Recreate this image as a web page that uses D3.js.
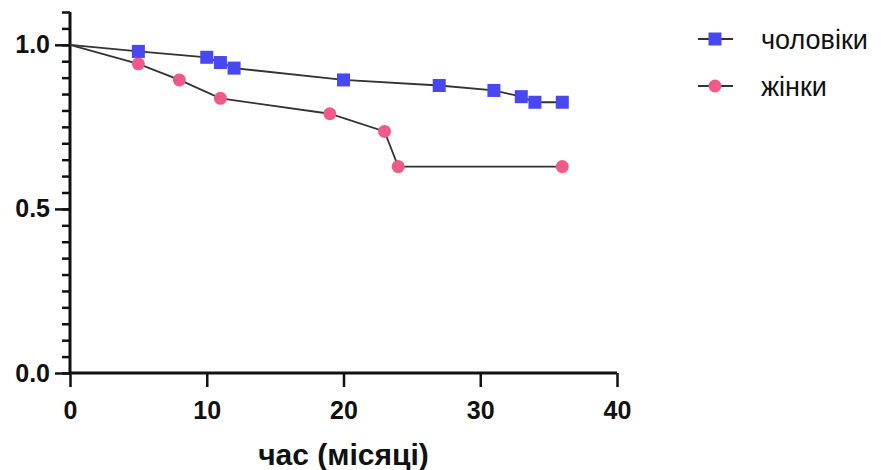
<!DOCTYPE html>
<html>
<head>
<meta charset="utf-8">
<script src="https://cdn.jsdelivr.net/npm/d3@7"></script>
<style>
  body { margin: 0; background: #fff; }
  text { font-family: "Liberation Sans", Arial, sans-serif; }
</style>
</head>
<body>
<div id="chart"></div>
<script>
// series (time in months, survival proportion)
const menTime = [0, 5, 10, 11, 12, 20, 27, 31, 33, 34, 36];
const menSurv = [1.0, 0.980, 0.962, 0.946, 0.929, 0.893, 0.876, 0.861, 0.842, 0.825, 0.825];
const womenTime = [0, 5, 8, 11, 19, 23, 24, 36];
const womenSurv = [1.0, 0.942, 0.893, 0.837, 0.790, 0.736, 0.629, 0.629];
const seriesNames = ["чоловіки", "жінки"];
const xTicks = [0, 10, 20, 30, 40];
const yTicks = [0.0, 0.5, 1.0];
const xTitle = "час (місяці)";

const width = 881, height = 470;
const margin = { top: 12, right: 264, bottom: 97, left: 70 };

const svg = d3.select("#chart").append("svg")
    .attr("width", width)
    .attr("height", height);

const x = d3.scaleLinear().domain([0, 40]).range([margin.left, width - margin.right]);
const y = d3.scaleLinear().domain([0, 1.1]).range([height - margin.bottom, margin.top]);

// y axis: minor ticks every 0.05, then major ticks with labels
const yMinor = svg.append("g").attr("transform", "translate(" + x(0) + ",0)")
    .call(d3.axisLeft(y).tickValues(d3.range(0, 1.1001, 0.05)).tickSize(8).tickFormat(""));
yMinor.select(".domain").remove();
yMinor.selectAll(".tick line").attr("stroke", "#111").attr("stroke-width", 2.5);

const yMajor = svg.append("g").attr("transform", "translate(" + x(0) + ",0)")
    .call(d3.axisLeft(y).tickValues(yTicks).tickSize(15).tickPadding(5).tickFormat(d3.format(".1f")));
yMajor.select(".domain").attr("d", "M0," + y(1.1) + "V" + y(0)).attr("stroke", "#111").attr("stroke-width", 3);
yMajor.selectAll(".tick line").attr("stroke", "#111").attr("stroke-width", 2.5);
yMajor.selectAll(".tick text")
    .attr("font-family", "Liberation Sans, Arial, sans-serif")
    .attr("font-size", 25).attr("font-weight", "bold").attr("fill", "#111")
    .attr("x", -20);

// x axis
const xAxis = svg.append("g").attr("transform", "translate(0," + y(0) + ")")
    .call(d3.axisBottom(x).tickValues(xTicks).tickSize(14).tickPadding(6));
xAxis.select(".domain").attr("d", "M" + x(0) + ",0H" + x(40)).attr("stroke", "#111").attr("stroke-width", 3);
xAxis.selectAll(".tick line").attr("stroke", "#111").attr("stroke-width", 2.5);
xAxis.selectAll(".tick text")
    .attr("font-family", "Liberation Sans, Arial, sans-serif")
    .attr("font-size", 25).attr("font-weight", "bold").attr("fill", "#111")
    .attr("y", 46).attr("dy", null);

svg.append("text")
    .attr("x", (x(0) + x(40)) / 2)
    .attr("y", 465)
    .attr("text-anchor", "middle")
    .attr("font-size", 30)
    .attr("font-weight", "bold")
    .attr("fill", "#111")
    .text(xTitle);

// lines
const line = d3.line().x(d => x(d[0])).y(d => y(d[1]));
const men = menTime.map((t, i) => [t, menSurv[i]]);
const women = womenTime.map((t, i) => [t, womenSurv[i]]);

svg.append("path").datum(women).attr("d", line)
    .attr("fill", "none").attr("stroke", "#333").attr("stroke-width", 1.8);
svg.append("path").datum(men).attr("d", line)
    .attr("fill", "none").attr("stroke", "#333").attr("stroke-width", 1.8);

const blue = "#4848f0", pink = "#ee5b8b";

svg.selectAll(".wdot").data(women.slice(1)).join("circle")
    .attr("class", "wdot")
    .attr("cx", d => x(d[0])).attr("cy", d => y(d[1])).attr("r", 6.5)
    .attr("fill", pink);
svg.selectAll(".mdot").data(men.slice(1)).join("rect")
    .attr("class", "mdot")
    .attr("x", d => x(d[0]) - 6.5).attr("y", d => y(d[1]) - 6.5)
    .attr("width", 13).attr("height", 13)
    .attr("fill", blue);

// legend
const legend = svg.append("g");
const legY = [39, 86];
seriesNames.forEach((name, i) => {
  const g = legend.append("g").attr("transform", "translate(0," + legY[i] + ")");
  g.append("line").attr("x1", 698).attr("x2", 733).attr("y1", 0).attr("y2", 0)
      .attr("stroke", "#333").attr("stroke-width", 1.8);
  if (i === 0) {
    g.append("rect").attr("x", 715 - 6.5).attr("y", -6.5).attr("width", 13).attr("height", 13).attr("fill", blue);
  } else {
    g.append("circle").attr("cx", 715).attr("cy", 0).attr("r", 6.5).attr("fill", pink);
  }
  g.append("text").attr("x", 761).attr("y", 9.5)
      .attr("font-size", 27).attr("fill", "#111").text(name);
});
</script>
</body>
</html>
